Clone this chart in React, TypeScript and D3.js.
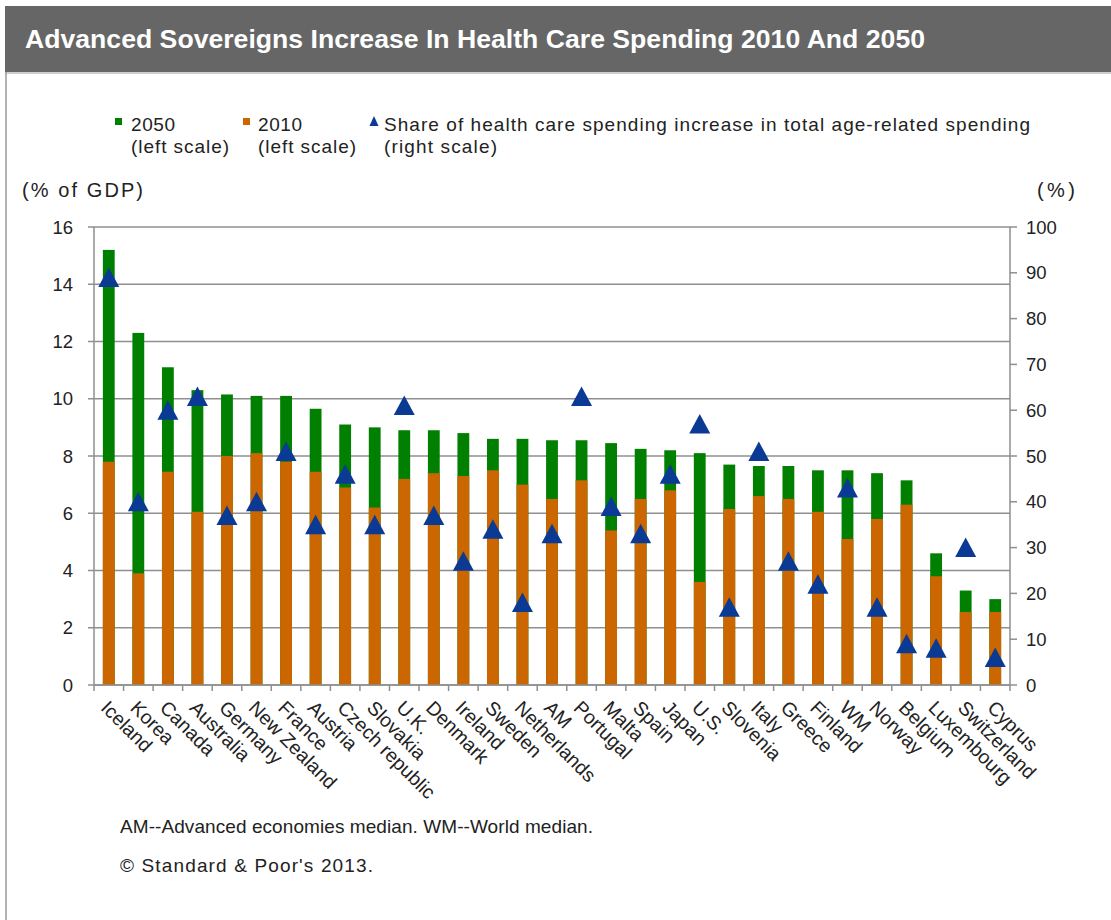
import React from "react";
import * as d3 from "d3";

const categories = ["Iceland","Korea","Canada","Australia","Germany","New Zealand","France","Austria","Czech republic","Slovakia","U.K.","Denmark","Ireland","Sweden","Netherlands","AM","Portugal","Malta","Spain","Japan","U.S.","Slovenia","Italy","Greece","Finland","WM","Norway","Belgium","Luxembourg","Switzerland","Cyprus"];
const values2050 = [15.2,12.3,11.1,10.3,10.15,10.1,10.1,9.65,9.1,9.0,8.9,8.9,8.8,8.6,8.6,8.55,8.55,8.45,8.25,8.2,8.1,7.7,7.65,7.65,7.5,7.5,7.4,7.15,4.6,3.3,3.0];
const values2010 = [7.8,3.9,7.45,6.05,8.0,8.1,7.8,7.45,6.9,6.2,7.2,7.4,7.3,7.5,7.0,6.5,7.15,5.4,6.5,6.8,3.6,6.15,6.6,6.5,6.05,5.1,5.8,6.3,3.8,2.55,2.55];
const shareValues = [89,40,60,63,37,40,51,35,46,35,61,37,27,34,18,33,63,39,33,46,57,17,51,27,22,43,17,9,8,30,6];
const leftTicks = [0,2,4,6,8,10,12,14,16];
const rightTicks = [0,10,20,30,40,50,60,70,80,90,100];

const GREEN = "#007F00";
const ORANGE = "#CC6600";
const BLUE = "#0A3A94";
const GRID = "#8f8f8f";
const FONT = "Arial, 'Liberation Sans', sans-serif";

export default function App() {
  const left = 94, right = 1010, top = 227, bottom = 685;
  const x = d3.scaleBand<string>().domain(categories).range([left, right]).paddingInner(0.6).paddingOuter(0.3);
  const yL = d3.scaleLinear().domain([0, 16]).range([bottom, top]);
  const yR = d3.scaleLinear().domain([0, 100]).range([bottom, top]);
  const step = x.step();
  const boundaries = d3.range(categories.length + 1).map(i => left + i * step);

  const tri = (cx: number, cy: number) => {
    const p = d3.path();
    p.moveTo(cx, cy - 10);
    p.lineTo(cx + 10.5, cy + 9.5);
    p.lineTo(cx - 10.5, cy + 9.5);
    p.closePath();
    return p.toString();
  };

  return (
    <div style={{ position: "absolute", left: 0, top: 0 }}>
      <svg width={1111} height={920} style={{ display: "block", fontFamily: FONT }}>
        <rect x={0} y={0} width={1111} height={920} fill="#fff" />
        {/* title bar */}
        <rect x={5} y={6} width={1106} height={66} fill="#666666" />
        <rect x={5} y={72} width={1106} height={2} fill="#cfcfcf" />
        <line x1={6} y1={72} x2={6} y2={920} stroke="#9a9a9a" strokeWidth={1.5} />
        <text x={25} y={48} fill="#fff" fontSize={25} fontWeight="bold" textLength={900} lengthAdjust="spacingAndGlyphs">
          Advanced Sovereigns Increase In Health Care Spending 2010 And 2050
        </text>

        {/* legend */}
        <g fontSize={19} fill="#222">
          <rect x={115} y={118} width={7} height={7} fill={GREEN} />
          <text x={131} y={131} textLength={44}>2050</text>
          <text x={131} y={153} textLength={98}>(left scale)</text>
          <rect x={243} y={118} width={7} height={7} fill={ORANGE} />
          <text x={258} y={131} textLength={44}>2010</text>
          <text x={258} y={153} textLength={98}>(left scale)</text>
          <path d={`M374,116 L378.5,126 L369.5,126 Z`} fill={BLUE} />
          <text x={384} y={131} textLength={646}>Share of health care spending increase in total age-related spending</text>
          <text x={384} y={153} textLength={113}>(right scale)</text>
        </g>

        {/* axis titles */}
        <text x={22} y={197} fontSize={20} fill="#222" textLength={121}>(% of GDP)</text>
        <text x={1037} y={197} fontSize={20} fill="#222" textLength={38}>(%)</text>

        {/* gridlines */}
        {leftTicks.map(t => (
          <line key={"g" + t} x1={left} x2={right} y1={yL(t)} y2={yL(t)} stroke={GRID} strokeWidth={1.5} />
        ))}

        {/* bars */}
        {categories.map((c, i) => (
          <rect key={"b50" + c} x={x(c)} y={yL(values2050[i])} width={x.bandwidth()} height={yL(0) - yL(values2050[i])} fill={GREEN} />
        ))}
        {categories.map((c, i) => (
          <rect key={"b10" + c} x={x(c)} y={yL(values2010[i])} width={x.bandwidth()} height={yL(0) - yL(values2010[i])} fill={ORANGE} />
        ))}

        {/* axes */}
        <line x1={left} x2={left} y1={top} y2={bottom} stroke={GRID} strokeWidth={1.5} />
        <line x1={right} x2={right} y1={top} y2={bottom} stroke={GRID} strokeWidth={1.5} />
        <line x1={left} x2={right} y1={bottom} y2={bottom} stroke={GRID} strokeWidth={1.5} />
        {leftTicks.map(t => (
          <g key={"lt" + t}>
            <line x1={left - 6} x2={left} y1={yL(t)} y2={yL(t)} stroke={GRID} strokeWidth={1.5} />
            <text x={73} y={yL(t)} dy="0.36em" textAnchor="end" fontSize={18.5} fill="#222">{t}</text>
          </g>
        ))}
        {rightTicks.map(t => (
          <g key={"rt" + t}>
            <line x1={right} x2={right + 7} y1={yR(t)} y2={yR(t)} stroke={GRID} strokeWidth={1.5} />
            <text x={1026} y={yR(t)} dy="0.36em" textAnchor="start" fontSize={18.5} fill="#222">{t}</text>
          </g>
        ))}
        {boundaries.map((b, i) => (
          <line key={"xt" + i} x1={b} x2={b} y1={bottom} y2={bottom + 6} stroke={GRID} strokeWidth={1.5} />
        ))}

        {/* triangles */}
        {categories.map((c, i) => (
          <path key={"t" + c} d={tri((x(c) as number) + x.bandwidth() / 2, yR(shareValues[i]))} fill={BLUE} />
        ))}

        {/* category labels */}
        {categories.map(c => {
          const cx = (x(c) as number) + x.bandwidth() / 2 - 9;
          const cy = 709;
          return (
            <text key={"l" + c} x={cx} y={cy} fontSize={19.5} fill="#222" transform={`rotate(45, ${cx}, ${cy})`}>{c}</text>
          );
        })}

        {/* footnotes */}
        <text x={120} y={833} fontSize={19} fill="#222" textLength={473}>AM--Advanced economies median. WM--World median.</text>
        <text x={120} y={872} fontSize={19} fill="#222" textLength={253}>© Standard &amp; Poor's 2013.</text>
      </svg>
    </div>
  );
}
